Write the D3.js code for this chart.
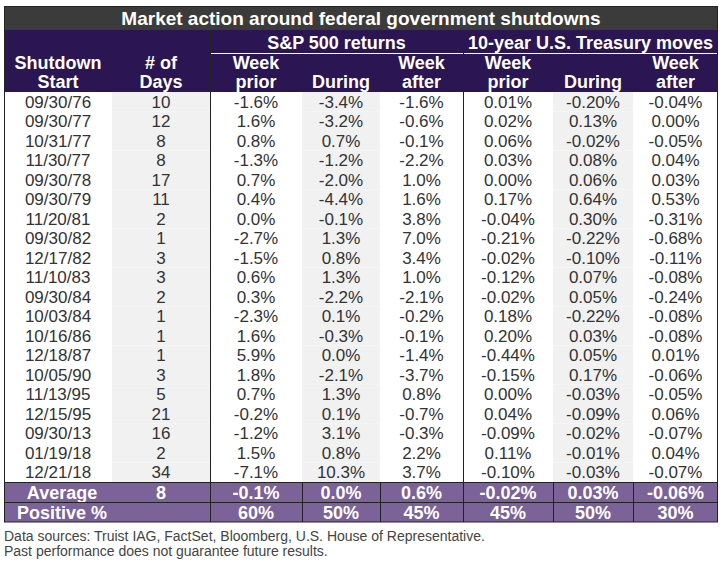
<!DOCTYPE html>
<html><head><style>body{margin:0;background:#fff}text{font-family:"Liberation Sans Narrow","Arial Narrow","Liberation Sans",Arial,sans-serif}</style></head>
<body><div id="chart"></div>
<script src="https://cdn.jsdelivr.net/npm/d3@7"></script>
<script>
const title = "Market action around federal government shutdowns";
const dates = ["09/30/76","09/30/77","10/31/77","11/30/77","09/30/78","09/30/79","11/20/81","09/30/82","12/17/82","11/10/83","09/30/84","10/03/84","10/16/86","12/18/87","10/05/90","11/13/95","12/15/95","09/30/13","01/19/18","12/21/18"];
const days = [10,12,8,8,17,11,2,1,3,3,2,1,1,1,3,5,21,16,2,34];
const spPrior = ["-1.6%","1.6%","0.8%","-1.3%","0.7%","0.4%","0.0%","-2.7%","-1.5%","0.6%","0.3%","-2.3%","1.6%","5.9%","1.8%","0.7%","-0.2%","-1.2%","1.5%","-7.1%"];
const spDuring = ["-3.4%","-3.2%","0.7%","-1.2%","-2.0%","-4.4%","-0.1%","1.3%","0.8%","1.3%","-2.2%","0.1%","-0.3%","0.0%","-2.1%","1.3%","0.1%","3.1%","0.8%","10.3%"];
const spAfter = ["-1.6%","-0.6%","-0.1%","-2.2%","1.0%","1.6%","3.8%","7.0%","3.4%","1.0%","-2.1%","-0.2%","-0.1%","-1.4%","-3.7%","0.8%","-0.7%","-0.3%","2.2%","3.7%"];
const tyPrior = ["0.01%","0.02%","0.06%","0.03%","0.00%","0.17%","-0.04%","-0.21%","-0.02%","-0.12%","-0.02%","0.18%","0.20%","-0.44%","-0.15%","0.00%","0.04%","-0.09%","0.11%","-0.10%"];
const tyDuring = ["-0.20%","0.13%","-0.02%","0.08%","0.06%","0.64%","0.30%","-0.22%","-0.10%","0.07%","0.05%","-0.22%","0.03%","0.05%","0.17%","-0.03%","-0.09%","-0.02%","-0.01%","-0.03%"];
const tyAfter = ["-0.04%","0.00%","-0.05%","0.04%","0.03%","0.53%","-0.31%","-0.68%","-0.11%","-0.08%","-0.24%","-0.08%","-0.08%","0.01%","-0.06%","-0.05%","0.06%","-0.07%","0.04%","-0.07%"];
const averageRow = ["Average","8","-0.1%","0.0%","0.6%","-0.02%","0.03%","-0.06%"];
const positiveRow = ["Positive %","","60%","50%","45%","45%","50%","30%"];
const colHeads = [["Shutdown","Start"],["# of","Days"],["Week","prior"],["","During"],["Week","after"],["Week","prior"],["","During"],["Week","after"]];
const groupHeads = [["S&P 500 returns",2,4],["10-year U.S. Treasury moves",5,7]];

const width = 722, height = 565;
const edges = [4,112,210,302,380,463,553,633,718];
const svg = d3.select("#chart").append("svg").attr("width",width).attr("height",height);

const rows = dates.map((d,i)=>[d,String(days[i]),spPrior[i],spDuring[i],spAfter[i],tyPrior[i],tyDuring[i],tyAfter[i]]);
const y = d3.scaleBand().domain(d3.range(rows.length)).range([92,482]);
const cx = i => (edges[i]+edges[i+1])/2;
const shaded = new Set([1,3,6]);

// title
svg.append("rect").attr("x",4).attr("y",6).attr("width",714).attr("height",24).attr("fill","#3b3b3b");
svg.append("text").attr("x",361).attr("y",24.5).attr("text-anchor","middle").attr("fill","#fff")
  .attr("font-size",19).attr("font-weight","bold").text(title);

// header
svg.append("rect").attr("x",4).attr("y",30).attr("width",714).attr("height",62).attr("fill","#2b1552");
groupHeads.forEach(([t,a,b])=>{
  svg.append("text").attr("x",(edges[a]+edges[b+1])/2).attr("y",49).attr("text-anchor","middle")
    .attr("fill","#fff").attr("font-size",18).attr("font-weight","bold").text(t);
  svg.append("line").attr("x1",edges[a]).attr("x2",edges[b+1]).attr("y1",53.5).attr("y2",53.5).attr("stroke","#fff").attr("stroke-width",1);
});
colHeads.forEach((h,i)=>{
  h.forEach((t,k)=>svg.append("text").attr("x",cx(i)).attr("y",69+k*19).attr("text-anchor","middle")
    .attr("fill","#fff").attr("font-size",18).attr("font-weight","bold").text(t));
});

// body
rows.forEach((r,ri)=>{
  r.forEach((v,ci)=>{
    if (shaded.has(ci)) svg.append("rect").attr("x",edges[ci]).attr("y",y(ri)).attr("width",edges[ci+1]-edges[ci]).attr("height",y.bandwidth()).attr("fill","#f1f1f1");
    svg.append("text").attr("x",cx(ci)).attr("y",y(ri)+y.bandwidth()/2+6).attr("text-anchor","middle")
      .attr("fill","#333").attr("font-size",17).text(v);
  });
});

// summary rows
[averageRow,positiveRow].forEach((r,k)=>{
  const top = 482+k*20;
  svg.append("rect").attr("x",4).attr("y",top).attr("width",714).attr("height",20).attr("fill","#7b6298");
  r.forEach((v,ci)=>{
    const x = ci===0 ? 62 : cx(ci);
    svg.append("text").attr("x",x).attr("y",top+16.5).attr("text-anchor","middle").attr("fill","#fff")
      .attr("font-size",18).attr("font-weight","bold").text(v);
  });
  svg.append("line").attr("x1",4).attr("x2",718).attr("y1",top+0.5).attr("y2",top+0.5).attr("stroke","#222");
});
[2,5].forEach(i=>svg.append("line").attr("x1",edges[i]+0.5).attr("x2",edges[i]+0.5).attr("y1",30).attr("y2",522).attr("stroke","#222"));
[3,4,6,7].forEach(i=>svg.append("line").attr("x1",edges[i]+0.5).attr("x2",edges[i]+0.5).attr("y1",482).attr("y2",522).attr("stroke","#222"));
svg.append("rect").attr("x",4.5).attr("y",6.5).attr("width",713).attr("height",515.5).attr("fill","none").attr("stroke","#222");

svg.append("text").attr("x",4).attr("y",541).attr("font-size",14).attr("fill","#444").text("Data sources: Truist IAG, FactSet, Bloomberg, U.S. House of Representative.");
svg.append("text").attr("x",4).attr("y",556).attr("font-size",14).attr("fill","#444").text("Past performance does not guarantee future results.");
</script></body></html>
